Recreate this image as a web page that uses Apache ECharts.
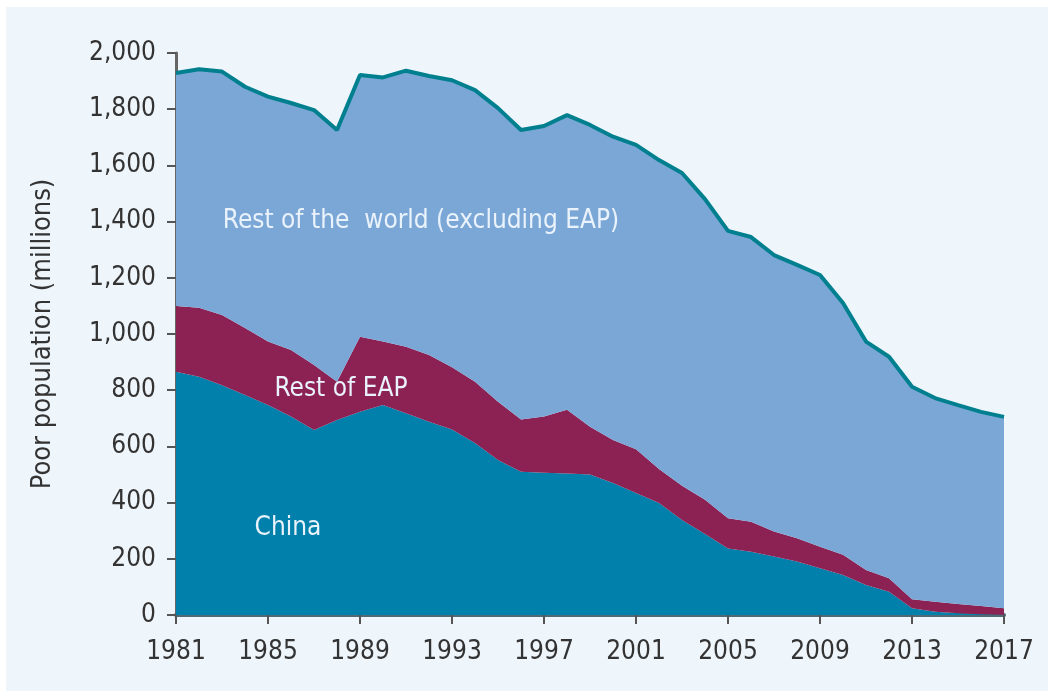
<!DOCTYPE html>
<html>
<head>
<meta charset="utf-8">
<script src="https://cdn.jsdelivr.net/npm/echarts@6/dist/echarts.min.js"></script>
<style>
  html, body { margin: 0; padding: 0; background: #ffffff; }
  #chart { width: 1048px; height: 691px; }
</style>
</head>
<body>
<div id="chart"></div>
<script>
const years = [
  '1981', '1982', '1983', '1984', '1985', '1986', '1987', '1988', '1989', '1990',
  '1991', '1992', '1993', '1994', '1995', '1996', '1997', '1998', '1999', '2000',
  '2001', '2002', '2003', '2004', '2005', '2006', '2007', '2008', '2009', '2010',
  '2011', '2012', '2013', '2014', '2015', '2016', '2017'
];

// poor population, millions (stacked bottom to top)
const china = [
  866, 848, 818, 783, 747, 706, 658, 694, 723, 747,
  718, 688, 660, 612, 552, 510, 506, 504, 500, 470,
  434, 399, 338, 288, 237, 225, 208, 190, 166, 142,
  107, 83, 24, 12, 6, 3, 1
];
const restOfEAP = [
  234, 245, 250, 238, 226, 237, 232, 136, 267, 226,
  237, 237, 222, 218, 207, 186, 200, 226, 170, 153,
  156, 121, 122, 122, 107, 107, 89, 83, 77, 72,
  53, 48, 32, 35, 33, 29, 23
];
const restOfWorld = [
  829, 849, 866, 859, 872, 879, 907, 896, 932, 940,
  982, 993, 1021, 1038, 1045, 1030, 1034, 1049, 1074, 1079,
  1083, 1099, 1113, 1070, 1023, 1013, 984, 973, 967, 896,
  813, 788, 756, 725, 708, 691, 681
];

const font = '"DejaVu Sans Condensed", sans-serif';

const chart = echarts.init(document.getElementById('chart'), null, { renderer: 'canvas' });

const areaSeries = (name, data, color) => ({
  name: name,
  type: 'line',
  stack: 'Total',
  data: data,
  showSymbol: false,
  symbol: 'none',
  lineStyle: { width: 0 },
  areaStyle: { color: color, opacity: 1 },
  emphasis: { disabled: true }
});

// in-plot area labels
const labelText = (text, x, y, size) => ({
  type: 'text',
  x: x,
  y: y,
  z: 100,
  style: {
    text: text,
    fill: '#eaf2fb',
    font: 'normal ' + size + 'px "DejaVu Sans Condensed", sans-serif',
    textAlign: 'center',
    textVerticalAlign: 'middle'
  }
});

const option = {
  animation: false,
  textStyle: { fontFamily: font },
  graphic: [
    {
      type: 'rect',
      z: -10,
      silent: true,
      shape: { x: 6, y: 7, width: 1042, height: 684 },
      style: { fill: '#eef5fb' }
    },
    labelText('Rest of the  world (excluding EAP)', 421, 221, 26),
    labelText('Rest of EAP', 341, 389, 26),
    labelText('China', 288, 528, 26)
  ],
  grid: { left: 176, right: 44, top: 53, bottom: 76, containLabel: false },
  xAxis: {
    type: 'category',
    data: years,
    boundaryGap: false,
    axisLine: { lineStyle: { color: '#4f6a76', width: 4 } },
    axisTick: { interval: 3, length: 9, lineStyle: { color: '#555', width: 2 } },
    axisLabel: { interval: 3, color: '#333', fontSize: 26, margin: 24, fontFamily: font },
    splitLine: { show: false }
  },
  yAxis: {
    type: 'value',
    min: 0,
    max: 2000,
    interval: 200,
    name: 'Poor population (millions)',
    nameLocation: 'middle',
    nameGap: 120,
    nameTextStyle: { color: '#333', fontSize: 27, fontFamily: font },
    axisLine: { show: true, lineStyle: { color: '#666', width: 3 } },
    axisTick: { show: true, length: 9, lineStyle: { color: '#555', width: 2 } },
    axisLabel: {
      color: '#333',
      fontSize: 26,
      margin: 20,
      fontFamily: font,
      formatter: v => v.toLocaleString('en-US')
    },
    splitLine: { show: false }
  },
  series: [
    areaSeries('China', china, '#0080aa'),
    areaSeries('Rest of EAP', restOfEAP, '#8c2153'),
    Object.assign(areaSeries('Rest of the world (excluding EAP)', restOfWorld, '#7ba7d7'), {
      lineStyle: { width: 4, color: '#00808f' }
    })
  ]
};

chart.setOption(option);
</script>
</body>
</html>
